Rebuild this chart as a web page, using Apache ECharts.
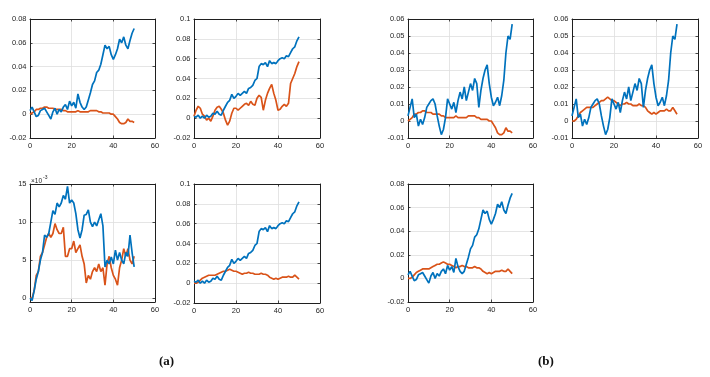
<!DOCTYPE html>
<html>
<head>
<meta charset="utf-8">
<script src="https://cdn.jsdelivr.net/npm/echarts@6/dist/echarts.min.js"></script>
<style>
  html, body { margin: 0; padding: 0; background: #fff; }
  #chart { width: 710px; height: 377px; }
</style>
</head>
<body>
<div id="chart"></div>
<script>
// sample times (x axis), shared by every curve
const tSteps = [0,1,2,3,4,5,6,7,8,9,10,11,12,13,14,15,16,17,18,19,20,21,22,23,24,25,
  26,27,28,29,30,31,32,33,34,35,36,37,38,39,40,41,42,43,44,45,46,47,48,49,50];

// blue curve of (a) top-left / (b) bottom-left
const blueA = [0.003,0.006,0.002,-0.002,-0.001,0.003,0.004,0.005,0.002,-0.001,-0.004,0.002,0.005,0.000,0.004,0.002,
  0.006,0.008,0.004,0.011,0.007,0.010,0.005,0.017,0.010,0.006,0.004,0.006,0.012,0.018,0.025,0.028,0.035,0.037,0.042,
  0.050,0.058,0.055,0.057,0.050,0.046,0.050,0.055,0.063,0.060,0.065,0.058,0.055,0.062,0.068,0.072];
// orange curve of (a) top-left / (b) top-left
const orangeA = [0.000,0.001,0.002,0.004,0.004,0.005,0.005,0.006,0.006,0.005,0.005,0.005,0.004,0.004,0.004,0.004,
  0.003,0.003,0.002,0.002,0.002,0.002,0.002,0.003,0.002,0.002,0.002,0.002,0.002,0.003,0.003,0.003,0.003,0.002,0.002,
  0.001,0.001,0.001,0.001,0.000,0.000,-0.002,-0.004,-0.007,-0.008,-0.008,-0.007,-0.004,-0.006,-0.006,-0.007];
// blue curve of (a) top-right / (a) bottom-right
const blueB = [0.002,0.001,0.003,0.000,0.002,0.000,0.003,0.001,0.002,0.005,0.004,0.007,0.004,0.003,0.008,0.012,
  0.016,0.018,0.024,0.020,0.022,0.025,0.023,0.025,0.027,0.025,0.030,0.031,0.033,0.038,0.040,0.052,0.055,0.054,0.056,
  0.052,0.058,0.055,0.056,0.055,0.058,0.060,0.061,0.060,0.063,0.062,0.066,0.070,0.072,0.078,0.082];
// orange curve of (a) top-right
const orangeC = [0.002,0.008,0.012,0.010,0.004,0.002,-0.002,0.000,-0.003,0.002,0.008,0.011,0.012,0.009,0.005,-0.002,
  -0.007,-0.003,0.005,0.010,0.010,0.008,0.010,0.012,0.014,0.015,0.013,0.017,0.014,0.013,0.020,0.023,0.021,0.008,0.018,
  0.025,0.030,0.034,0.025,0.018,0.008,0.009,0.012,0.014,0.012,0.015,0.035,0.040,0.045,0.052,0.057];
// blue curve of (b) top row
const blueC = [0.003,0.008,0.013,0.002,0.004,-0.003,0.001,-0.002,0.002,0.008,0.010,0.012,0.013,0.010,0.003,-0.003,
  -0.008,-0.005,0.002,0.013,0.010,0.007,0.011,0.005,0.012,0.017,0.013,0.020,0.012,0.017,0.022,0.018,0.025,0.022,0.008,
  0.018,0.025,0.030,0.033,0.022,0.014,0.009,0.011,0.014,0.009,0.015,0.024,0.040,0.050,0.048,0.057];
// orange curve of (b) top-right / (a) bottom-right / (b) bottom-left
const orangeB = [0.000,0.000,0.001,0.003,0.005,0.006,0.007,0.008,0.008,0.008,0.008,0.009,0.010,0.011,0.012,0.012,
  0.013,0.014,0.013,0.012,0.012,0.011,0.010,0.009,0.010,0.010,0.011,0.010,0.010,0.009,0.009,0.009,0.010,0.009,0.009,
  0.008,0.006,0.005,0.004,0.005,0.004,0.005,0.006,0.006,0.006,0.007,0.006,0.006,0.008,0.006,0.004];
// (a) bottom-left, in units of 1e-3
const blueSmall = [0.0,-0.3,1.0,2.5,3.5,5.0,6.0,8.3,8.0,8.5,10.0,11.5,11.0,12.5,12.0,12.5,13.5,13.0,14.7,12.5,12.9,
  12.5,11.1,9.0,7.9,9.0,10.9,11.0,11.6,10.0,9.4,10.0,9.5,10.3,11.1,9.5,4.1,5.0,4.5,5.4,4.5,6.3,5.0,6.0,5.0,4.5,6.0,5.5,
  8.3,6.0,4.1];
const orangeSmall = [0.0,0.0,1.0,3.0,3.5,5.5,6.0,7.0,8.0,8.5,8.0,8.5,9.8,9.0,8.5,8.5,9.3,5.5,5.5,6.5,6.5,7.5,6.0,6.5,
  7.0,5.5,4.5,2.0,3.0,2.5,3.5,4.0,3.5,4.5,3.5,4.0,1.7,4.5,5.5,4.0,3.0,2.5,1.7,4.0,5.0,6.5,5.5,6.5,5.0,4.5,5.5];

// tick settings per panel
const yMins = [-0.02, -0.02, -0.01, -0.01, -0.5, -0.02, -0.02];
const yMaxs = [0.08, 0.1, 0.06, 0.06, 15, 0.1, 0.08];
const yIntervals = [0.02, 0.02, 0.01, 0.01, null, 0.02, 0.02];
const smallTicks = [0, 5, 10, 15];
const xTicks = [0, 60, 20];

const panels = [
  { box: [30, 19, 125, 119], y: 0, lines: [blueA, orangeA] },
  { box: [194, 19, 126, 119], y: 1, lines: [blueB, orangeC] },
  { box: [408, 19, 125, 119], y: 2, lines: [blueC, orangeA] },
  { box: [572, 19, 126, 119], y: 3, lines: [blueC, orangeB] },
  { box: [30, 184, 125, 118], y: 4, lines: [blueSmall, orangeSmall] },
  { box: [194, 184, 126, 119], y: 5, lines: [blueB, orangeB] },
  { box: [408, 184, 125, 118], y: 6, lines: [blueA, orangeB] },
];

const colors = ['#0072BD', '#D95319'];
const ink = '#1f1f1f';
const labelFont = { fontSize: 7.5, color: ink, fontFamily: 'Liberation Sans, Arial, sans-serif' };
const boxLine = { show: true, onZero: false, lineStyle: { color: ink, width: 1 } };
const gridLine = { show: true, lineStyle: { color: '#dedede', width: 0.8 } };

const grid = [], xAxis = [], yAxis = [], series = [];

panels.forEach((p, i) => {
  grid.push({
    left: p.box[0], top: p.box[1], width: p.box[2], height: p.box[3]
  });
  const xBase = {
    gridIndex: i, type: 'value', min: xTicks[0], max: xTicks[1], interval: xTicks[2],
    axisLine: boxLine,
    axisTick: { inside: true, length: 2.5, lineStyle: { color: ink, width: 0.8 } }
  };
  xAxis.push(Object.assign({}, xBase, {
    position: 'bottom',
    axisLabel: Object.assign({ margin: 4 }, labelFont),
    splitLine: gridLine
  }));
  xAxis.push(Object.assign({}, xBase, {
    position: 'top', axisLabel: { show: false }, splitLine: { show: false }
  }));

  const small = yIntervals[p.y] === null;
  const yBase = {
    gridIndex: i, type: 'value', min: yMins[p.y], max: yMaxs[p.y],
    axisLine: boxLine,
    axisTick: { inside: true, length: 2.5, lineStyle: { color: ink, width: 0.8 } }
  };
  if (small) {
    yBase.axisTick.customValues = smallTicks;
  } else {
    yBase.interval = yIntervals[p.y];
  }
  const yLabel = Object.assign({ margin: 3.5 }, labelFont);
  if (small) yLabel.customValues = smallTicks;
  yAxis.push(Object.assign({}, yBase, {
    position: 'left', axisLabel: yLabel, splitLine: gridLine
  }));
  yAxis.push(Object.assign({}, yBase, {
    position: 'right', axisLabel: { show: false }, splitLine: { show: false }
  }));

  p.lines.forEach((vals, k) => {
    series.push({
      type: 'line',
      xAxisIndex: i * 2,
      yAxisIndex: i * 2,
      showSymbol: false,
      animation: false,
      z: k === 0 ? 3 : 2,
      lineStyle: { color: colors[k], width: 1.7 },
      data: vals.map((v, j) => [tSteps[j], v])
    });
  });
});

const chart = echarts.init(document.getElementById('chart'));
chart.setOption({
  animation: false,
  backgroundColor: '#fff',
  grid, xAxis, yAxis, series,
  graphic: [
    { type: 'text', left: 31, top: 178, style: { text: '×10', fontSize: 6.5, fill: ink, fontFamily: 'Liberation Sans, Arial' } },
    { type: 'text', left: 43, top: 175, style: { text: '-3', fontSize: 5, fill: ink, fontFamily: 'Liberation Sans, Arial' } },
    { type: 'text', left: 159, top: 355, style: { text: '(a)', fontSize: 13, fontWeight: 'bold', fill: '#111', fontFamily: 'Liberation Serif, Times New Roman, serif' } },
    { type: 'text', left: 538, top: 355, style: { text: '(b)', fontSize: 13, fontWeight: 'bold', fill: '#111', fontFamily: 'Liberation Serif, Times New Roman, serif' } }
  ]
});
</script>
</body>
</html>
